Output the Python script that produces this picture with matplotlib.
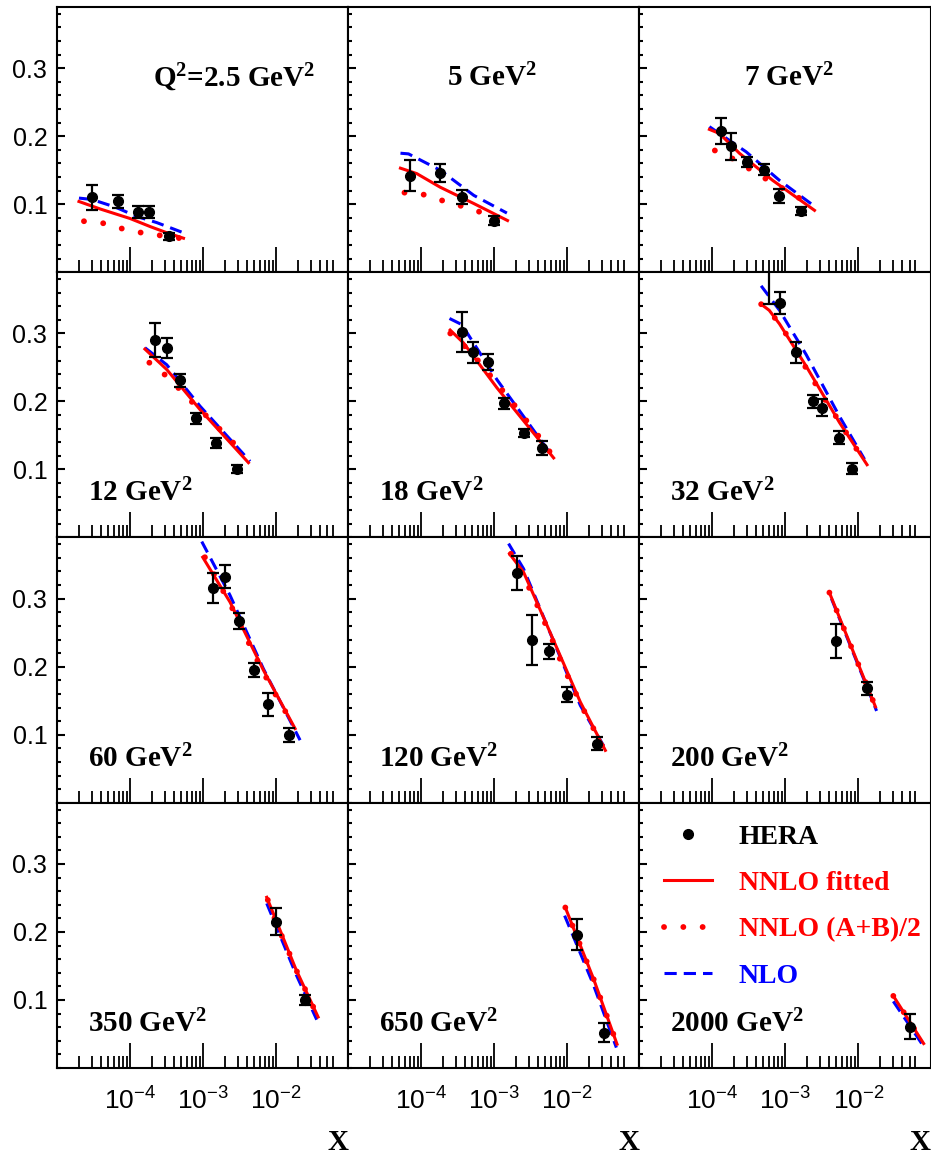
import numpy as np
import matplotlib.pyplot as plt
from matplotlib.ticker import FixedLocator, MultipleLocator, NullFormatter

# Q^2 bins, one panel each (row by row)
q2_labels = [r'$\mathregular{Q^2}$=2.5 GeV$\mathregular{^2}$', r'5 GeV$\mathregular{^2}$',
             r'7 GeV$\mathregular{^2}$', r'12 GeV$\mathregular{^2}$', r'18 GeV$\mathregular{^2}$',
             r'32 GeV$\mathregular{^2}$', r'60 GeV$\mathregular{^2}$', r'120 GeV$\mathregular{^2}$',
             r'200 GeV$\mathregular{^2}$', r'350 GeV$\mathregular{^2}$', r'650 GeV$\mathregular{^2}$',
             r'2000 GeV$\mathregular{^2}$']

# HERA data points
hera_x = [
    [3.0e-5, 6.9e-5, 1.28e-4, 1.82e-4, 3.47e-4],
    [7.1e-5, 1.82e-4, 3.6e-4, 1.0e-3],
    [1.31e-4, 1.8e-4, 2.95e-4, 5.15e-4, 8.1e-4, 1.62e-3],
    [2.2e-4, 3.18e-4, 4.85e-4, 7.9e-4, 1.49e-3, 2.95e-3],
    [3.57e-4, 5.05e-4, 8.1e-4, 1.36e-3, 2.52e-3, 4.55e-3],
    [6.0e-4, 8.3e-4, 1.4e-3, 2.37e-3, 3.18e-3, 5.5e-3, 8.1e-3],
    [1.38e-3, 2.0e-3, 3.14e-3, 5.0e-3, 7.85e-3, 1.48e-2],
    [2.05e-3, 3.28e-3, 5.55e-3, 1.0e-2, 2.55e-2],
    [5.0e-3, 1.29e-2],
    [9.9e-3, 2.5e-2],
    [1.36e-2, 3.2e-2],
    [5.0e-2],
]
hera_y = [
    [0.110, 0.104, 0.088, 0.088, 0.053],
    [0.142, 0.146, 0.111, 0.076],
    [0.208, 0.185, 0.162, 0.151, 0.112, 0.090],
    [0.291, 0.279, 0.231, 0.175, 0.139, 0.101],
    [0.302, 0.272, 0.258, 0.197, 0.154, 0.132],
    [0.410, 0.345, 0.272, 0.200, 0.191, 0.147, 0.101],
    [0.316, 0.332, 0.267, 0.195, 0.145, 0.100],
    [0.338, 0.239, 0.223, 0.159, 0.087],
    [0.238, 0.168],
    [0.215, 0.100],
    [0.196, 0.052],
    [0.061],
]
hera_err = [
    [0.018, 0.010, 0.009, 0.009, 0.005],
    [0.023, 0.013, 0.010, 0.006],
    [0.019, 0.020, 0.008, 0.008, 0.010, 0.006],
    [0.025, 0.015, 0.010, 0.008, 0.008, 0.006],
    [0.029, 0.016, 0.012, 0.008, 0.006, 0.010],
    [0.067, 0.016, 0.015, 0.010, 0.013, 0.010, 0.008],
    [0.022, 0.017, 0.012, 0.010, 0.017, 0.010],
    [0.025, 0.037, 0.011, 0.011, 0.010],
    [0.025, 0.010],
    [0.020, 0.008],
    [0.023, 0.014],
    [0.018],
]

# NNLO fitted
fit_x = [
    [2.0e-5, 3.9e-5, 1.0e-4, 1.9e-4, 3.2e-4, 5.4e-4],
    [5.2e-5, 8.7e-5, 1.82e-4, 5.25e-4, 1.52e-3],
    [9.1e-5, 1.25e-4, 2.34e-4, 6.7e-4, 2.5e-3],
    [1.6e-4, 3.18e-4, 9.1e-4, 4.18e-3],
    [2.49e-4, 3.8e-4, 1.09e-3, 6.5e-3],
    [4.65e-4, 6.0e-4, 8.3e-4, 1.92e-3, 5.5e-3, 1.31e-2],
    [9.9e-4, 2.34e-3, 6.7e-3, 1.82e-2],
    [1.62e-3, 2.52e-3, 5.27e-3, 1.51e-2, 3.32e-2],
    [4.0e-3, 1.71e-2],
    [7.45e-3, 1.87e-2, 3.76e-2],
    [9.4e-3, 2.29e-2, 4.8e-2],
    [3.0e-2, 7.8e-2],
]
fit_y = [
    [0.104, 0.093, 0.079, 0.067, 0.058, 0.050],
    [0.153, 0.145, 0.125, 0.101, 0.076],
    [0.210, 0.204, 0.175, 0.135, 0.091],
    [0.277, 0.247, 0.188, 0.110],
    [0.305, 0.286, 0.220, 0.117],
    [0.343, 0.334, 0.314, 0.252, 0.169, 0.107],
    [0.361, 0.295, 0.195, 0.109],
    [0.366, 0.339, 0.261, 0.148, 0.077],
    [0.309, 0.141],
    [0.251, 0.145, 0.075],
    [0.236, 0.131, 0.035],
    [0.106, 0.036],
]

# NNLO (A+B)/2
avg_x = [
    [2.34e-5, 4.3e-5, 7.85e-5, 1.45e-4, 2.63e-4, 4.84e-4],
    [5.9e-5, 1.1e-4, 2.0e-4, 3.65e-4, 6.64e-4, 1.21e-3],
    [1.08e-4, 1.9e-4, 3.32e-4, 5.85e-4, 1.0e-3, 1.73e-3, 2.5e-3],
    [1.84e-4, 3.11e-4, 5.1e-4, 8.2e-4, 1.36e-3, 2.23e-3, 3.65e-3],
    [2.5e-4, 4.69e-4, 7.3e-4, 1.15e-3, 1.79e-3, 2.8e-3, 4.4e-3, 6.5e-3],
    [4.65e-4, 8.45e-4, 1.22e-3, 1.78e-3, 2.58e-3, 3.8e-3, 5.68e-3, 8.36e-3, 1.27e-2],
    [1.06e-3, 1.51e-3, 2.18e-3, 3.05e-3, 4.18e-3, 5.85e-3, 8.28e-3, 1.2e-2, 1.73e-2],
    [1.69e-3, 2.4e-3, 3.45e-3, 4.65e-3, 6.37e-3, 8.45e-3, 1.16e-2, 1.59e-2, 2.29e-2, 3.14e-2],
    [4.0e-3, 1.71e-2],
    [7.7e-3, 1.04e-2, 1.41e-2, 1.87e-2, 3.63e-2],
    [9.4e-3, 2.29e-2, 4.8e-2],
    [3.0e-2, 7.8e-2],
]
avg_y = [
    [0.075, 0.072, 0.064, 0.058, 0.054, 0.050],
    [0.117, 0.114, 0.105, 0.097, 0.088, 0.079],
    [0.179, 0.167, 0.151, 0.135, 0.121, 0.106, 0.093],
    [0.257, 0.238, 0.215, 0.192, 0.170, 0.146, 0.124],
    [0.300, 0.274, 0.249, 0.223, 0.198, 0.171, 0.144, 0.118],
    [0.343, 0.315, 0.284, 0.255, 0.226, 0.196, 0.168, 0.138, 0.110],
    [0.361, 0.330, 0.299, 0.268, 0.236, 0.204, 0.173, 0.143, 0.114],
    [0.366, 0.337, 0.303, 0.271, 0.237, 0.204, 0.173, 0.141, 0.109, 0.079],
    [0.309, 0.141],
    [0.247, 0.209, 0.177, 0.145, 0.078],
    [0.236, 0.131, 0.035],
    [0.106, 0.036],
]

# NLO
nlo_x = [
    [2.0e-5, 3.0e-5, 6.2e-5, 1.24e-4, 2.32e-4, 5.1e-4],
    [5.2e-5, 6.7e-5, 1.82e-4, 5.25e-4, 1.49e-3],
    [9.1e-5, 2.9e-4, 8.3e-4, 2.5e-3],
    [1.6e-4, 3.18e-4, 9.1e-4, 4.4e-3],
    [2.44e-4, 3.6e-4, 1.09e-3, 6.2e-3],
    [4.65e-4, 8.3e-4, 1.92e-3, 5.5e-3, 1.21e-2],
    [9.6e-4, 2.34e-3, 6.7e-3, 2.13e-2],
    [1.57e-3, 2.52e-3, 5.27e-3, 1.51e-2, 3.5e-2],
    [4.27e-3, 1.77e-2],
    [7.45e-3, 1.87e-2, 3.6e-2],
    [9.2e-3, 2.25e-2, 4.7e-2],
    [3.0e-2, 8.0e-2],
]
nlo_y = [
    [0.109, 0.107, 0.096, 0.082, 0.073, 0.059],
    [0.175, 0.174, 0.150, 0.113, 0.087],
    [0.214, 0.177, 0.135, 0.097],
    [0.279, 0.254, 0.193, 0.112],
    [0.322, 0.313, 0.232, 0.120],
    [0.370, 0.334, 0.269, 0.178, 0.115],
    [0.384, 0.305, 0.197, 0.092],
    [0.381, 0.344, 0.261, 0.143, 0.075],
    [0.300, 0.135],
    [0.242, 0.138, 0.071],
    [0.224, 0.124, 0.030],
    [0.098, 0.030],
]

serif = 'Liberation Serif'
sans = 'Liberation Sans'

fig, axes = plt.subplots(4, 3, figsize=(9.31, 11.62), dpi=100)
fig.subplots_adjust(left=0.0612, right=0.9995, top=0.994, bottom=0.0809,
                    wspace=0, hspace=0)

minor_x = [m * 10.0 ** e for e in (-5, -4, -3) for m in range(2, 10)] + \
          [m * 1e-2 for m in range(2, 7)]
top_label_x = [0.61, 0.495, 0.515]

for i, ax in enumerate(axes.flat):
    row, col = divmod(i, 3)
    ax.set_xscale('log')

    ax.plot(nlo_x[i], nlo_y[i], color='blue', lw=2.2, linestyle=(0, (4, 2.3)),
            zorder=2, label='NLO')
    ax.plot(fit_x[i], fit_y[i], color='red', lw=2.2, zorder=3, label='NNLO fitted')
    ax.plot(avg_x[i], avg_y[i], color='red', lw=4.2, linestyle=(0, (0.01, 3.3)),
            dash_capstyle='round', zorder=3, label='NNLO (A+B)/2')
    ax.errorbar(hera_x[i], hera_y[i], yerr=hera_err[i], fmt='none', ecolor='black',
                elinewidth=1.6, capsize=4.5, capthick=1.6, zorder=4)
    ax.plot(hera_x[i], hera_y[i], 'o', color='black', ms=7, zorder=5, label='HERA')

    ax.set_xlim(1e-5, 0.097)
    ax.set_ylim(0, 0.39)
    ax.xaxis.set_major_locator(FixedLocator([1e-4, 1e-3, 1e-2]))
    ax.xaxis.set_minor_locator(FixedLocator(minor_x))
    ax.xaxis.set_minor_formatter(NullFormatter())
    ax.yaxis.set_major_locator(FixedLocator([0.1, 0.2, 0.3]))
    ax.yaxis.set_minor_locator(MultipleLocator(0.02))

    ax.tick_params(axis='x', which='major', direction='in', length=18, width=1.3,
                   pad=14, labelsize=19, bottom=True, top=False)
    ax.tick_params(axis='x', which='minor', direction='in', length=9, width=1.3,
                   bottom=True, top=False)
    ax.tick_params(axis='y', which='major', direction='in', length=6, width=1.5,
                   pad=7, labelsize=18, left=True, right=False)
    ax.tick_params(axis='y', which='minor', direction='in', length=3, width=1.5,
                   left=True, right=False)
    for s in ax.spines.values():
        s.set_linewidth(1.5)

    if row == 3:
        ax.set_xticklabels([r'$\mathregular{10^{-4}}$', r'$\mathregular{10^{-3}}$',
                            r'$\mathregular{10^{-2}}$'], fontfamily=sans)
        ax.set_xlabel('X', loc='right', fontfamily=serif, fontweight='bold',
                      fontsize=21, labelpad=10)
    else:
        ax.tick_params(axis='x', labelbottom=False)
    if col == 0:
        ax.set_yticklabels(['0.1', '0.2', '0.3'], fontfamily=sans)
    else:
        ax.tick_params(axis='y', labelleft=False)

    if row == 0:
        ax.text(top_label_x[col], 0.70, q2_labels[i], transform=ax.transAxes,
                ha='center', va='baseline', fontfamily=serif, fontweight='bold',
                fontsize=21)
    else:
        ax.text(0.105, 0.135, q2_labels[i], transform=ax.transAxes,
                ha='left', va='baseline', fontfamily=serif, fontweight='bold',
                fontsize=21)

# legend in the last panel
ax = axes[3, 2]
h, l = ax.get_legend_handles_labels()
order = [3, 1, 2, 0]
ax.legend([h[k] for k in order], [l[k] for k in order], loc='upper left',
          bbox_to_anchor=(0.086, 0.918), frameon=False, borderpad=0, borderaxespad=0,
          handlelength=1.73, handletextpad=0.95, labelspacing=0.75,
          prop={'family': serif, 'weight': 'bold', 'size': 20},
          labelcolor=['black', 'red', 'red', 'blue'])

fig.savefig('out.png', dpi=100)
